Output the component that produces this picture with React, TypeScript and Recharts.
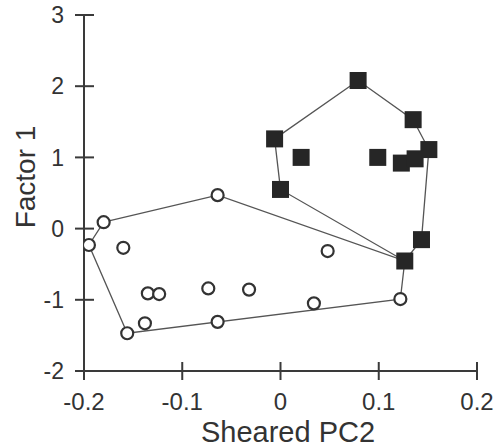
import React from 'react';
import { ScatterChart, Scatter, XAxis, YAxis } from 'recharts';

type P = { x: number; y: number };

// Open circles (group 1); the last one sits hidden under a filled square
const circles: P[] = [
  { x: -0.18, y: 0.09 },
  { x: -0.195, y: -0.23 },
  { x: -0.16, y: -0.27 },
  { x: -0.135, y: -0.91 },
  { x: -0.1235, y: -0.92 },
  { x: -0.0735, y: -0.84 },
  { x: -0.138, y: -1.33 },
  { x: -0.156, y: -1.47 },
  { x: -0.064, y: -1.31 },
  { x: -0.064, y: 0.47 },
  { x: 0.048, y: -0.315 },
  { x: -0.032, y: -0.857 },
  { x: 0.034, y: -1.05 },
  { x: 0.122, y: -0.99 },
  { x: 0.1265, y: -0.455 },
];

// Filled squares (group 2)
const squares: P[] = [
  { x: -0.006, y: 1.26 },
  { x: 0.079, y: 2.08 },
  { x: 0.135, y: 1.53 },
  { x: 0.151, y: 1.11 },
  { x: 0.1435, y: -0.155 },
  { x: 0.1265, y: -0.455 },
  { x: 0.0, y: 0.55 },
  { x: 0.021, y: 1.0 },
  { x: 0.099, y: 1.0 },
  { x: 0.123, y: 0.92 },
  { x: 0.137, y: 0.98 },
];

// Convex hull vertex order (indices into the arrays above)
const circleHullIdx = [0, 9, 14, 13, 7, 1, 0];
const squareHullIdx = [0, 1, 2, 3, 4, 5, 6, 0];

const xTicks = [-0.2, -0.1, 0, 0.1, 0.2];
const yTicks = [-2, -1, 0, 1, 2, 3];
const xTickLabels = ['-0.2', '-0.1', '0', '0.1', '0.2'];
const yTickLabels = ['-2', '-1', '0', '1', '2', '3'];

const xTitle = 'Sheared PC2';
const yTitle = 'Factor 1';

const circleHull = circleHullIdx.map((i) => circles[i]);
const squareHull = squareHullIdx.map((i) => squares[i]);

const AXIS = '#3a3a3a';
const FONT = '"Liberation Sans", Arial, Helvetica, sans-serif';

const XTick = (props: any) => {
  const { x, y, payload } = props;
  const i = xTicks.indexOf(payload.value);
  return (
    <g>
      <line x1={x} x2={x} y1={y - 9} y2={y + 9} stroke={AXIS} strokeWidth={2} />
      <text x={x} y={y + 39} textAnchor="middle" fontSize={24} fontFamily={FONT} fill="#333">
        {i >= 0 ? xTickLabels[i] : String(payload.value)}
      </text>
    </g>
  );
};

const YTick = (props: any) => {
  const { x, y, payload } = props;
  const i = yTicks.indexOf(payload.value);
  return (
    <g>
      <line x1={x - 9} x2={x + 10} y1={y} y2={y} stroke={AXIS} strokeWidth={2} />
      <text x={x - 20} y={y} dy="0.36em" textAnchor="end" fontSize={23} fontFamily={FONT} fill="#333">
        {i >= 0 ? yTickLabels[i] : String(payload.value)}
      </text>
    </g>
  );
};

const Square = (props: any) => {
  const { cx, cy } = props;
  return <rect x={cx - 8.5} y={cy - 8.5} width={17} height={17} fill="#262626" />;
};

const Circle = (props: any) => {
  const { cx, cy } = props;
  return <circle cx={cx} cy={cy} r={6} fill="#ffffff" stroke="#333" strokeWidth={2.2} />;
};

const Nothing = () => <g />;

export default function App() {
  return (
    <div style={{ position: 'absolute', left: 0, top: 0, background: '#fff' }}>
      <ScatterChart
        width={497}
        height={448}
        margin={{ top: 15, right: 20, bottom: 37, left: 24 }}
      >
        <XAxis
          type="number"
          dataKey="x"
          domain={[-0.2, 0.2]}
          ticks={xTicks}
          interval={0}
          allowDataOverflow
          height={40}
          tickSize={0}
          tickMargin={0}
          tickLine={false}
          axisLine={{ stroke: AXIS, strokeWidth: 2 }}
          tick={<XTick />}
          label={{
            content: () => (
              <text x={288} y={442} textAnchor="middle" fontSize={29} fontFamily={FONT} fill="#333">
                {xTitle}
              </text>
            ),
          }}
        />
        <YAxis
          type="number"
          dataKey="y"
          domain={[-2, 3]}
          ticks={yTicks}
          interval={0}
          allowDataOverflow
          width={60}
          tickSize={0}
          tickMargin={0}
          tickLine={false}
          axisLine={{ stroke: AXIS, strokeWidth: 2 }}
          tick={<YTick />}
          label={{
            content: () => (
              <text
                x={35}
                y={177}
                transform="rotate(-90, 35, 177)"
                textAnchor="middle"
                fontSize={28}
                fontFamily={FONT}
                fill="#333"
              >
                {yTitle}
              </text>
            ),
          }}
        />
        <Scatter
          data={circleHull}
          line={{ stroke: '#555', strokeWidth: 1.3 }}
          shape={<Nothing />}
          isAnimationActive={false}
        />
        <Scatter
          data={squareHull}
          line={{ stroke: '#555', strokeWidth: 1.3 }}
          shape={<Nothing />}
          isAnimationActive={false}
        />
        <Scatter data={circles} shape={<Circle />} isAnimationActive={false} />
        <Scatter data={squares} shape={<Square />} isAnimationActive={false} />
      </ScatterChart>
    </div>
  );
}
